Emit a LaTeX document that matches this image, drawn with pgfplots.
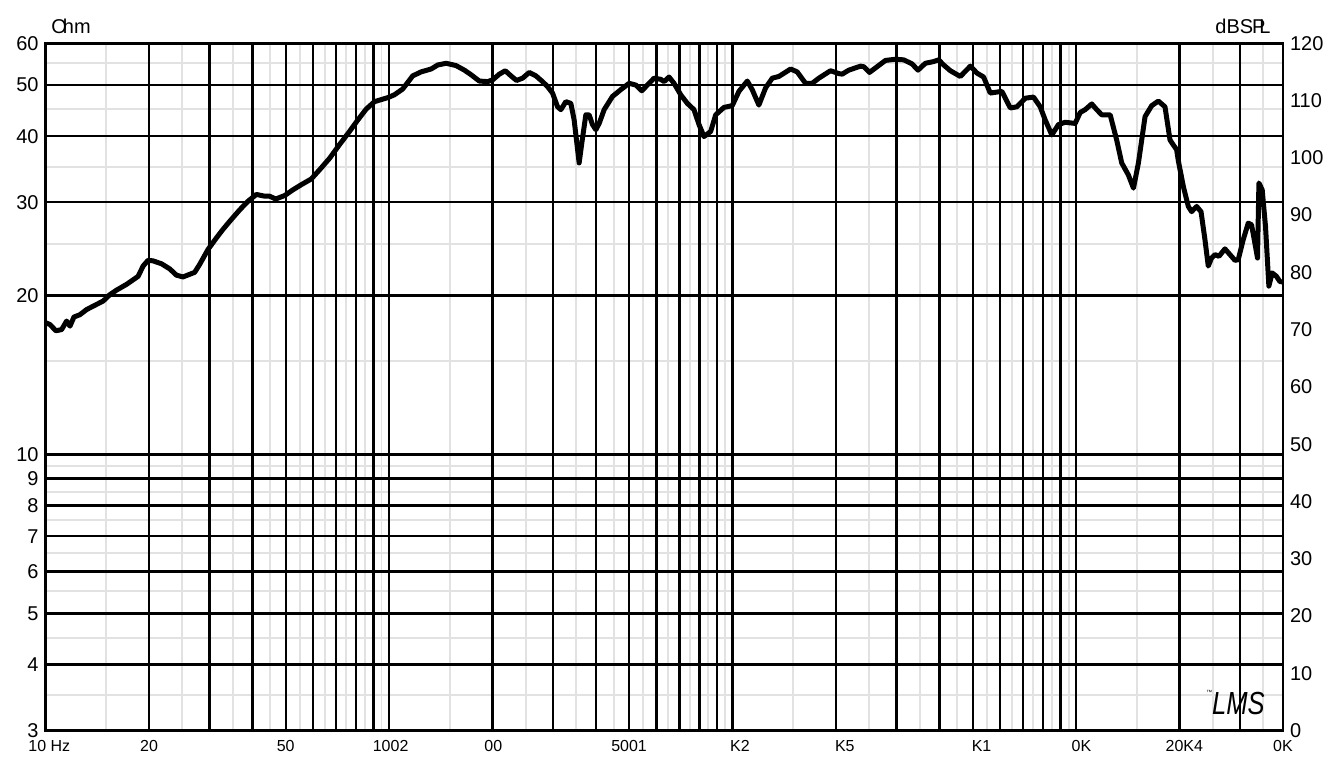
\documentclass[border=0pt]{standalone}
\usepackage{pgfplots}
\pgfplotsset{compat=1.18}
\usepackage{fontspec}
\setmainfont{Liberation Sans}
\definecolor{gridgray}{HTML}{E2E2E2}
\begin{document}
\begin{tikzpicture}
% gray minor grid
\begin{axis}[scale only axis, width=619.65pt, height=344.2pt,
  xmode=log, xmin=10, xmax=40000, ymode=log, ymin=3, ymax=60,
  major tick length=0pt, minor tick length=0pt,
  xtick={15,25,35,45,55,65,75,85,95,150,250,350,450,550,650,750,850,950,1500,2500,3500,4500,5500,6500,7500,8500,9500,15000,25000,35000},
  ytick={3.5,4.5,5.5,6.5,7.5,8.5,9.5,15,25,35,45,55},
  xticklabels={}, yticklabels={},
  grid=major, major grid style={gridgray, line width=1pt},
  axis line style={draw=none}]
\end{axis}
% black major grid and left axis
\begin{axis}[scale only axis, width=619.65pt, height=344.2pt,
  xmode=log, xmin=10, xmax=40000, ymode=log, ymin=3, ymax=60,
  major tick length=0pt, minor tick length=0pt,
  xtick={10,20,30,40,50,60,70,80,90,100,200,300,400,500,600,700,800,900,1000,2000,3000,4000,5000,6000,7000,8000,9000,10000,20000,30000,40000},
  xticklabels={},
  ytick={3,4,5,6,7,8,9,10,20,30,40,50,60},
  yticklabels={3,4,5,6,7,8,9,10,20,30,40,50,60},
  yticklabel style={font=\fontsize{10}{12}\selectfont},
  grid=major, major grid style={black, line width=1.2pt},
  axis line style={black, line width=1.3pt}]
\end{axis}
% SPL curve, right axis, x labels
\begin{axis}[scale only axis, width=619.65pt, height=344.2pt,
  xmode=log, xmin=10, xmax=40000, ymin=0, ymax=120,
  major tick length=0pt, minor tick length=0pt,
  ytick={0,10,20,30,40,50,60,70,80,90,100,110,120},
  yticklabels={0,10,20,30,40,50,60,70,80,90,100,110,120},
  yticklabel pos=right,
  yticklabel style={font=\fontsize{10}{12}\selectfont},
  xtick={10.25,20,50,101,201,499.5,1050,2121,5305,10360,20640,40000},
  xticklabels={10 Hz,20,50,1002,00,5001,K2,K5,K1,0K,20K4,0K},
  xticklabel style={font=\fontsize{8}{10}\selectfont, yshift=-1.2pt},
  xticklabel pos=lower,
  axis line style={black, line width=1.3pt},
  clip=false]
\path (rel axis cs:-0.03688,-0.05273) rectangle (rel axis cs:1.03632,1.06290);
\node[anchor=west, font=\fontsize{10}{12}\selectfont, inner sep=0pt] at (rel axis cs:0.0043,1.0251) {O\kern-2pt hm};
\node[anchor=east, font=\fontsize{10}{12}\selectfont, inner sep=0pt] at (rel axis cs:0.9903,1.0251) {dBS\kern-0.5pt P\kern-3pt L};
\node[font=\fontsize{16}{16}\selectfont\itshape, inner sep=0pt] at (rel axis cs:0.9640,0.0390) {\scalebox{0.8}[1]{LMS}};
\node[font=\fontsize{3}{3}\selectfont, inner sep=0pt] at (rel axis cs:0.9405,0.0560) {™};
\addplot[black, line width=2.5pt, line join=round, mark=none] coordinates {
(10.00,71.2) (10.29,70.9) (10.71,69.8) (11.13,70.0) (11.51,71.5) (11.77,70.6)
(12.09,72.2) (12.58,72.6) (13.16,73.5) (14.07,74.4) (14.71,75.0) (15.38,76.1)
(16.09,76.9) (17.20,77.9) (18.18,78.9) (18.59,79.3) (19.22,81.1) (19.87,82.1)
(20.55,82.0) (21.74,81.5) (22.98,80.6) (24.04,79.5) (25.12,79.2) (27.16,80.0)
(28.09,81.4) (29.70,84.0) (31.41,86.0) (32.83,87.5) (34.34,88.9) (36.72,90.9)
(38.81,92.4) (41.06,93.6) (43.40,93.3) (44.88,93.3) (46.72,92.8) (49.62,93.4)
(52.45,94.4) (55.49,95.3) (59.33,96.3) (62.72,97.9) (67.06,99.9) (71.71,102.3)
(76.67,104.6) (81.05,106.6) (85.74,108.5) (90.64,109.8) (99.07,110.5) (103.6,111.0)
(109.5,112.0) (117.1,114.3) (123.9,115.0) (132.5,115.5) (138.5,116.2) (146.5,116.5)
(156.6,116.1) (165.6,115.3) (173.2,114.5) (183.0,113.4) (193.5,113.3) (200.1,113.6)
(209.3,114.6) (217.8,115.2) (226.3,114.3) (234.9,113.5) (244.6,113.9) (255.8,114.9)
(267.5,114.3) (279.6,113.3) (288.5,112.5) (299.0,111.3) (309.2,108.9) (316.2,108.4)
(326.9,109.8) (338.1,109.5) (345.6,106.6) (357.4,99.1) (363.9,102.6) (373.8,107.5)
(382.1,107.5) (390.8,105.8) (399.8,104.9) (408.7,106.0) (422.6,108.4) (446.7,110.7)
(472.5,111.9) (499.5,113.0) (522.4,112.7) (543.8,111.7) (564.6,112.7) (590.5,113.9)
(617.6,113.7) (631.4,113.3) (652.9,114.1) (675.1,113.0) (706.1,111.0) (738.0,109.5)
(771.8,108.4) (798.1,105.8) (825.2,103.7) (863.1,104.6) (892.5,107.5) (943.5,108.8)
(997.3,109.1) (1043,111.6) (1103,113.4) (1140,111.9) (1192,109.2) (1247,112.2)
(1304,113.9) (1363,114.2) (1475,115.5) (1541,115.0) (1630,113.0) (1704,113.0)
(1782,113.9) (1927,115.2) (2037,114.7) (2083,114.6) (2178,115.3) (2356,116.0)
(2408,115.9) (2502,114.9) (2633,115.9) (2785,117.0) (2978,117.2) (3148,117.1)
(3327,116.4) (3464,115.3) (3639,116.5) (3847,116.8) (3978,117.1) (4114,116.2)
(4303,115.2) (4601,114.2) (4919,116.0) (5141,114.8) (5377,114.1) (5623,111.3)
(6077,111.6) (6430,108.7) (6720,108.9) (7108,110.4) (7514,110.6) (7859,108.9)
(8126,106.6) (8493,104.0) (8882,105.8) (9291,106.2) (9933,106.0) (10270,107.9)
(10620,108.4) (11100,109.4) (11480,108.4) (11870,107.5) (12560,107.5) (13120,103.1)
(13570,99.1) (14190,97.0) (14680,94.7) (15180,99.1) (15870,107.2) (16590,109.1)
(17350,109.9) (18140,108.9) (18760,103.1) (19610,101.4) (19830,99.5) (20510,95.0)
(21210,91.5) (21680,90.6) (22420,91.5) (23090,90.6) (23710,85.7) (24240,81.1)
(24780,82.5) (25350,83.1) (26040,82.8) (27110,84.1) (28030,83.1) (28990,82.1)
(29630,82.2) (30640,85.7) (31690,88.6) (32400,88.3) (33270,84.5) (33720,82.5)
(34040,95.6) (34800,94.4) (35580,88.0) (36390,77.6) (37210,79.9) (38290,79.3)
(39180,78.4) (40000,78.3)
};
\end{axis}
\end{tikzpicture}
\end{document}
